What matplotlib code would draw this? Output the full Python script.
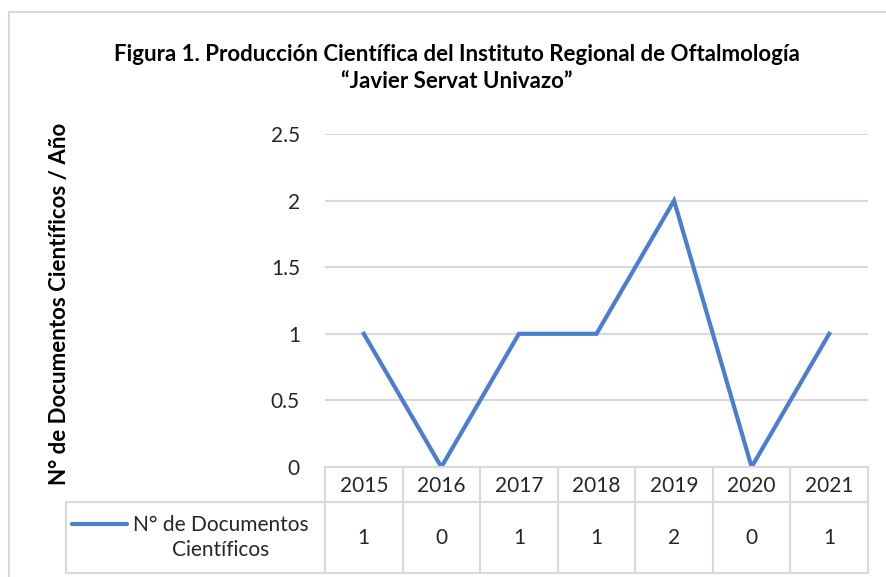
import matplotlib.pyplot as plt
from matplotlib.patches import Rectangle
from matplotlib.lines import Line2D

years = ["2015", "2016", "2017", "2018", "2019", "2020", "2021"]
docs = [1, 0, 1, 1, 2, 0, 1]
series_name = "N° de Documentos\nCientíficos"
title = "Figura 1. Producción Científica del Instituto Regional de Oftalmología\n\u201cJavier Servat Univazo\u201d"
ylabel = "N° de Documentos Científicos / Año"

BLUE = "#4A7ECF"
GRID = "#d9d9d9"
TXT = "#262626"
plt.rcParams['font.family'] = ['Lato', 'DejaVu Sans']

W, H = 887, 577
fig = plt.figure(figsize=(W / 100, H / 100), dpi=100)

# chart area border
fig.patches.append(Rectangle((9 / W, 1 - 590 / H), 900 / W, 578 / H, transform=fig.transFigure,
                             fill=False, edgecolor=GRID, linewidth=1.5))

# plot area in pixels
x0, x1, y0, y1 = 325, 868, 467, 134
ymax = 2.5
ax = fig.add_axes([x0 / W, 1 - y0 / H, (x1 - x0) / W, (y0 - y1) / H])
xs = list(range(len(years)))
ax.plot(xs, docs, color=BLUE, linewidth=3, solid_joinstyle='miter')
ax.set_xlim(-0.5, len(years) - 0.5)
ax.set_ylim(0, ymax)
ax.set_yticks([0, 0.5, 1, 1.5, 2, 2.5])
ax.set_yticklabels(["0", "0.5", "1", "1.5", "2", "2.5"])
ax.yaxis.grid(True, color=GRID, linewidth=1.5)
ax.set_axisbelow(True)
ax.set_xticks([])
ax.tick_params(axis='y', length=0, pad=18, labelsize=15, colors=TXT)
for s in ax.spines.values():
    s.set_visible(False)

# data table (pixel rows converted to data units)
upp = ymax / (y0 - y1)
pw = (x1 - x0) / len(years)
hdr = -(502 - y0) * upp
bot = -(573 - y0) * upp
left = -(x0 - 66) / pw - 0.5
lk = dict(color=GRID, linewidth=1.5, clip_on=False)
ax.plot([-0.5, len(years) - 0.5], [0, 0], **lk)
ax.plot([left, len(years) - 0.5], [hdr, hdr], **lk)
ax.plot([left, len(years) - 0.5], [bot, bot], **lk)
ax.plot([left, left], [hdr, bot], **lk)
for i in range(len(years) + 1):
    ax.plot([i - 0.5, i - 0.5], [0, bot], **lk)
for i, (yr, v) in enumerate(zip(years, docs)):
    ax.text(i, hdr / 2 - 2 * upp, yr, ha='center', va='center', fontsize=15, color=TXT, clip_on=False)
    ax.text(i, (hdr + bot) / 2, str(v), ha='center', va='center', fontsize=15, color=TXT, clip_on=False)

# legend key inside table
ym = (hdr + bot) / 2
lx0 = -(x0 - 72) / pw - 0.5
lx1 = -(x0 - 127) / pw - 0.5
ax.add_line(Line2D([lx0, lx1], [ym + 14 * upp, ym + 14 * upp], color=BLUE, linewidth=3,
                   solid_capstyle='round', clip_on=False))
ax.text(-(x0 - 221) / pw - 0.5, ym, series_name, ha='center', va='center', fontsize=15,
        color=TXT, linespacing=1.3, clip_on=False)

fig.text(457 / W, 1 - 68 / H, title, ha='center', va='center', fontsize=16, fontweight='bold',
         color='#000000', linespacing=1.3)
fig.text(60 / W, 1 - 304 / H, ylabel, ha='center', va='center', rotation=90, fontsize=16,
         fontweight='bold', color='#000000')

fig.savefig("out.png", dpi=100)
